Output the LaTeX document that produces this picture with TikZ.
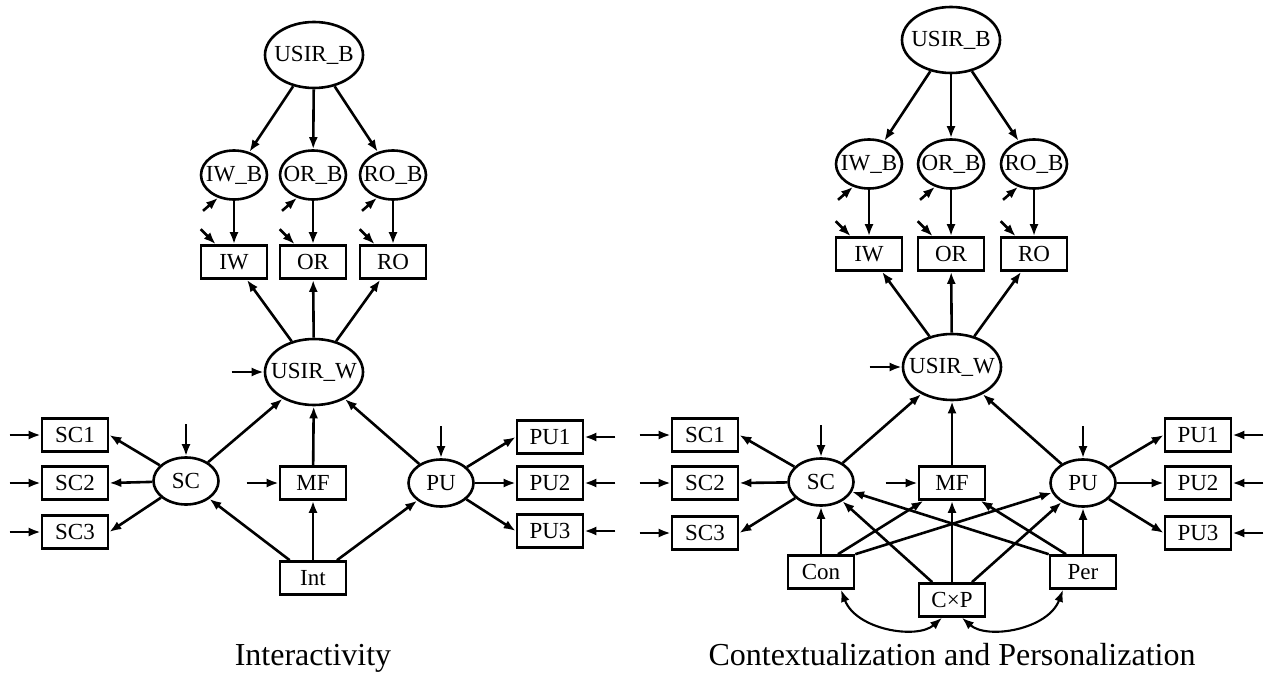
\documentclass[tikz,border=0pt]{standalone}
\usepackage{fontspec}
\setmainfont{Liberation Serif}
\usetikzlibrary{shapes.geometric,arrows.meta}
\begin{document}
\begin{tikzpicture}[
		x=1pt, y=-1pt,
		>={Latex[length=12pt,width=9pt]},
		line width=2.6pt,
		font=\fontsize{23}{27}\selectfont,
		latent node/.style={ellipse, draw, inner xsep=-9pt, inner ysep=0pt},
		big latent/.style={latent node, minimum width=98pt, minimum height=66pt},
		small latent/.style={latent node, minimum width=66pt, minimum height=49pt},
		factor node/.style={latent node, minimum width=65pt, minimum height=47pt},
		item node/.style={rectangle, draw, inner sep=0pt, minimum width=66pt, minimum height=33pt},
		caption node/.style={font=\fontsize{32}{38}\selectfont, anchor=base}
	]
		\useasboundingbox (0,0) rectangle (1265,676);

		% left: interactivity
		\node[big latent] (lub) at (314,55) {USIR\_B};
		\node[small latent] (liwb) at (234,175) {IW\_B};
		\node[small latent] (lorb) at (313,175) {OR\_B};
		\node[small latent] (lrob) at (393,175) {RO\_B};
		\node[item node] (liw) at (234,262) {IW};
		\node[item node] (lor) at (313,262) {OR};
		\node[item node] (lro) at (393,262) {RO};
		\node[big latent] (luw) at (314,372) {USIR\_W};
		\node[factor node] (lsc) at (186,481) {SC};
		\node[item node] (lmf) at (313,483) {MF};
		\node[factor node] (lpu) at (441,483) {PU};
		\node[item node] (lint) at (313,578) {Int};
		\node[item node] (lsc1) at (75,435) {SC1};
		\node[item node] (lsc2) at (75,483) {SC2};
		\node[item node] (lsc3) at (75,532) {SC3};
		\node[item node] (lpu1) at (550,437) {PU1};
		\node[item node] (lpu2) at (550,483) {PU2};
		\node[item node] (lpu3) at (550,531) {PU3};

		% right: contextualization and personalization
		\node[big latent] (rub) at (951,40) {USIR\_B};
		\node[small latent] (riwb) at (869,164) {IW\_B};
		\node[small latent] (rorb) at (951,164) {OR\_B};
		\node[small latent] (rrob) at (1034,164) {RO\_B};
		\node[item node] (riw) at (869,254) {IW};
		\node[item node] (ror) at (951,254) {OR};
		\node[item node] (rro) at (1034,254) {RO};
		\node[big latent] (ruw) at (952,367) {USIR\_W};
		\node[factor node] (rsc) at (821,482) {SC};
		\node[item node] (rmf) at (952,483) {MF};
		\node[factor node] (rpu) at (1083,483) {PU};
		\node[item node] (rcon) at (821,572) {Con};
		\node[item node] (rcxp) at (952,600) {C×P};
		\node[item node] (rper) at (1083,572) {Per};
		\node[item node] (rsc1) at (705,435) {SC1};
		\node[item node] (rsc2) at (705,483) {SC2};
		\node[item node] (rsc3) at (705,533) {SC3};
		\node[item node] (rpu1) at (1198,435) {PU1};
		\node[item node] (rpu2) at (1198,483) {PU2};
		\node[item node] (rpu3) at (1198,533) {PU3};

		\foreach \s in {l,r} {
			\foreach \n in {iw,or,ro} {
				\coordinate (\s\n be) at ([shift={(-15pt,-13pt)}]\s\n b.-125);
				\coordinate (\s\n e) at ([shift={(1pt,15pt)}]\s\n.north west);
				\draw[->] (\s ub) -- (\s\n b);
				\draw[->] (\s\n b) -- (\s\n);
				\draw[->] (\s uw) -- (\s\n);
				\draw[->] (\s\n be) -- (\s\n b.-125);
				\draw[->] (\s\n e) -- ([xshift=16pt]\s\n.north west);
			}
			\foreach \k in {1,2,3} {
				\coordinate (\s sce\k) at ([xshift=-31pt]\s sc\k.west);
				\coordinate (\s pue\k) at ([xshift=31pt]\s pu\k.east);
				\draw[->] (\s sc) -- (\s sc\k.east);
				\draw[->] (\s pu) -- (\s pu\k.west);
				\draw[->] (\s sce\k) -- (\s sc\k);
				\draw[->] (\s pue\k) -- (\s pu\k);
			}
			\coordinate (\s uwe) at ([xshift=-32pt]\s uw.west);
			\coordinate (\s mfe) at ([xshift=-32pt]\s mf.west);
			\coordinate (\s sce) at ([yshift=32pt]\s sc.north);
			\coordinate (\s pue) at ([yshift=32pt]\s pu.north);
			\draw[->] (\s uwe) -- (\s uw);
			\draw[->] (\s mfe) -- (\s mf);
			\draw[->] (\s sce) -- (\s sc);
			\draw[->] (\s pue) -- (\s pu);
			\foreach \f in {sc,mf,pu} {
				\draw[->] (\s\f) -- (\s uw);
			}
		}

		\foreach \f in {sc,mf,pu} {
			\draw[->] (lint) -- (l\f);
			\draw[->] (rcxp) -- (r\f);
		}
		\draw[->] (rcon) -- (rsc);
		\draw[->] ([xshift=17pt]rcon.north) -- (rmf);
		\draw[->] (rcon.north east) -- (rpu);
		\draw[->] (rper) -- (rpu);
		\draw[->] ([xshift=-17pt]rper.north) -- (rmf);
		\draw[->] (rper.north west) -- (rsc);

		\draw[<->, line width=2.1pt] ([xshift=20pt]rcon.south) .. controls +(15,40) and +(-25,22) .. ([xshift=-10pt]rcxp.south);
		\draw[<->, line width=2.1pt] ([xshift=10pt]rcxp.south) .. controls +(25,22) and +(-15,40) .. ([xshift=-20pt]rper.south);

		\node[caption node] (lcap) at (313,665) {Interactivity};
		\node[caption node] (rcap) at (952,665) {Contextualization and Personalization};
	\end{tikzpicture}
\end{document}
